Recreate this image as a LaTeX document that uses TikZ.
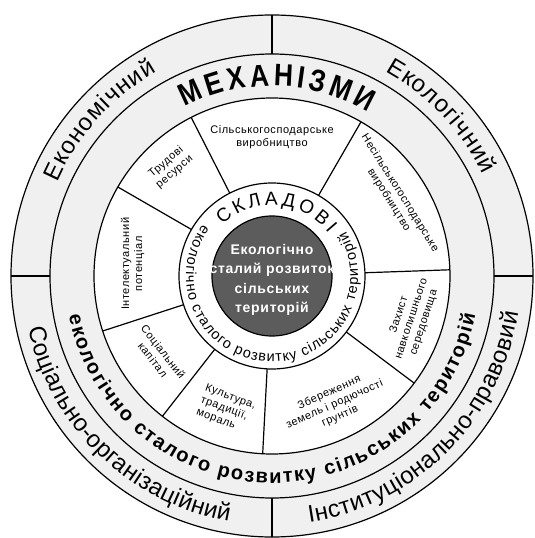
\documentclass[tikz,border=0pt]{standalone}
\usepackage{fontspec}
\setmainfont{Liberation Sans}
\newfontfamily\tracked[LetterSpace=5]{Liberation Sans}
\newfontfamily\narrowfont[FakeStretch=0.85]{Liberation Sans}
\usepackage{tikz}
\usetikzlibrary{decorations.text}
\definecolor{bandgrey}{RGB}{239,240,239}
\definecolor{coregrey}{RGB}{92,92,92}
\tikzstyle{sector} = [align=center, inner sep=0pt, font=\tracked\fontsize{11}{13}\selectfont]
\tikzstyle{core} = [align=center, inner sep=0pt, text=white, font=\tracked\bfseries\fontsize{14}{19.5}\selectfont]
% text on an arc: radius, start angle, end angle, font, text
\newcommand{\arctext}[5]{%
  \path[decorate, decoration={text along path, text align=center, text={|#4|#5}}]
    (#2:#1) arc[start angle=#2, end angle=#3, radius=#1];}

\begin{document}
\begin{tikzpicture}[line width=1.2pt]
    \useasboundingbox (-272pt,-262pt) rectangle (263pt,276pt);

    % Rings
    \filldraw[fill=bandgrey] (0,0) circle (261pt);
    \draw (0,0) circle (222pt);
    \filldraw[fill=white] (0,0) circle (178pt);
    \foreach \a in {117,60,2,-37,-93,-128,-162,150}
        \draw (\a:93pt) -- (\a:178pt);
    \filldraw[fill=white] (0,0) circle (93pt);
    \filldraw[fill=coregrey] (0,0) circle (60pt);
    \foreach \a in {0,90,180,270}
        \draw (\a:222pt) -- (\a:261pt);

    \node (core) [core] at (0,-4pt) {Екологічно\\сталий розвиток\\сільських\\територій};

    % Components
    \node (s1) [sector] at (90:139pt) {Сільськогосподарське\\виробництво};
    \node (s2) [sector, rotate=-58] at (33:146pt) {Несільськогосподарське\\виробництво};
    \node (s3) [sector, rotate=72] at (-17:146pt) {Захист\\навколишнього\\середовища};
    \node (s4) [sector, rotate=24] at (296:143pt) {Збереження\\земель і родючості\\грунтів};
    \node (s5) [sector, rotate=-20, align=left] at (251:141pt) {Культура,\\традиції,\\мораль};
    \node (s6) [sector, rotate=-52] at (215:139pt) {Соціальний\\капітал};
    \node (s7) [sector, rotate=90] at (175:140pt) {Інтелектуальний\\потенціал};
    \node (s8) [sector, rotate=40] at (133:149pt) {Трудові\\ресурси};

    % Ring captions
    \arctext{71pt}{147}{27}{\fontsize{19}{19}\selectfont\kern3.5pt}{СКЛАДОВІ}
    \arctext{86pt}{117}{417}{\fontsize{14.5}{14.5}\selectfont\kern1pt}{екологічно сталого розвитку сільських територій}
    \arctext{190pt}{149}{29}{\narrowfont\bfseries\fontsize{31}{31}\selectfont\kern4pt}{МЕХАНІЗМИ}
    \arctext{207pt}{170}{370}{\bfseries\fontsize{20}{20}\selectfont\kern1.7pt}{екологічно сталого розвитку сільських територій}

    % Outer band
    \arctext{234pt}{183}{93}{\fontsize{24}{24}\selectfont\kern1pt}{Економічний}
    \arctext{234pt}{88}{-1}{\fontsize{24}{24}\selectfont\kern1pt}{Екологічний}
    \arctext{249pt}{181}{271}{\fontsize{24}{24}\selectfont\kern0.3pt}{Соціально-організаційний}
    \arctext{249pt}{270}{360}{\fontsize{24}{24}\selectfont\kern0.5pt}{Інституціонально-правовий}
\end{tikzpicture}
\end{document}
